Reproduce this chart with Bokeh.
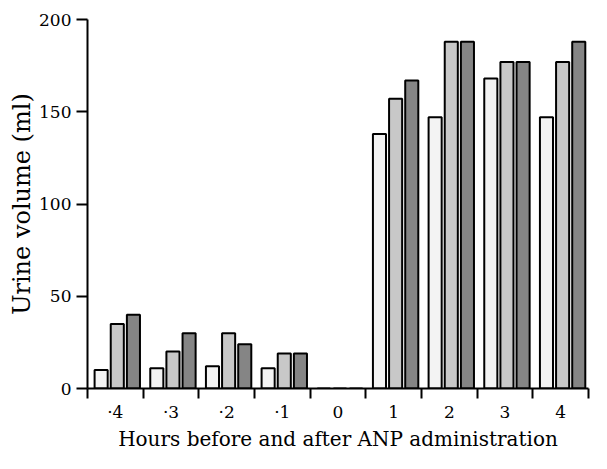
from bokeh.plotting import figure
from bokeh.models import FixedTicker, Range1d, ColumnDataSource
from bokeh.embed import file_html
from bokeh.resources import INLINE

hours = ["·4", "·3", "·2", "·1", "0", "1", "2", "3", "4"]
series_a = [10, 11, 12, 11, 0, 138, 147, 168, 147]
series_b = [35, 20, 30, 19, 0, 157, 188, 177, 177]
series_c = [40, 30, 24, 19, 0, 167, 188, 177, 188]

FONT = "DejaVu Serif"

p = figure(width=591, height=453, output_backend="svg", toolbar_location=None,
           x_range=Range1d(0, len(hours)), y_range=Range1d(0, 200),
           min_border_left=87, min_border_right=3, min_border_top=19, min_border_bottom=0)
p.outline_line_color = None
p.grid.visible = False
p.background_fill_color = "white"
p.border_fill_color = "white"

offsets = [-0.255, 0.035, 0.325]
colors = ["#f3f3f3", "#c8c8c8", "#858585"]
for vals, off, col in zip([series_a, series_b, series_c], offsets, colors):
    xs = [i + 0.5 + off for i in range(len(hours))]
    src = ColumnDataSource(dict(x=xs, top=vals))
    p.vbar(x="x", top="top", bottom=0, width=0.235, source=src,
           fill_color=col, line_color="black", line_width=2)

centers = [i + 0.5 for i in range(len(hours))]
bounds = [float(i) for i in range(len(hours) + 1)]
p.xaxis.ticker = FixedTicker(ticks=centers, minor_ticks=bounds)
p.xaxis.major_label_overrides = {c: h for c, h in zip(centers, hours)}
p.xaxis.major_tick_out = 0
p.xaxis.major_tick_in = 0
p.xaxis.minor_tick_out = 10
p.xaxis.minor_tick_in = 0
p.xaxis.minor_tick_line_width = 2
p.xaxis.minor_tick_line_color = "black"
p.xaxis.axis_line_width = 2
p.xaxis.axis_line_color = "black"
p.xaxis.major_label_standoff = 3
p.xaxis.major_label_text_font = FONT
p.xaxis.major_label_text_font_size = "17px"
p.xaxis.major_label_text_color = "black"
p.xaxis.axis_label = "Hours before and after ANP administration"
p.xaxis.axis_label_text_font = FONT
p.xaxis.axis_label_text_font_size = "20px"
p.xaxis.axis_label_text_font_style = "normal"
p.xaxis.axis_label_text_color = "black"
p.xaxis.axis_label_standoff = 2

p.yaxis.ticker = FixedTicker(ticks=[0, 50, 100, 150, 200])
p.yaxis.major_tick_out = 11
p.yaxis.major_tick_in = 0
p.yaxis.minor_tick_out = 0
p.yaxis.minor_tick_in = 0
p.yaxis.major_tick_line_width = 2
p.yaxis.axis_line_width = 2
p.yaxis.axis_line_color = "black"
p.yaxis.major_label_standoff = 5
p.yaxis.major_label_text_font = FONT
p.yaxis.major_label_text_font_size = "17px"
p.yaxis.major_label_text_color = "black"
p.yaxis.axis_label = "Urine volume (ml)"
p.yaxis.axis_label_text_font = FONT
p.yaxis.axis_label_text_font_size = "24px"
p.yaxis.axis_label_text_font_style = "normal"
p.yaxis.axis_label_text_color = "black"
p.yaxis.axis_label_standoff = 0

open("out.html", "w").write(file_html(p, INLINE))
